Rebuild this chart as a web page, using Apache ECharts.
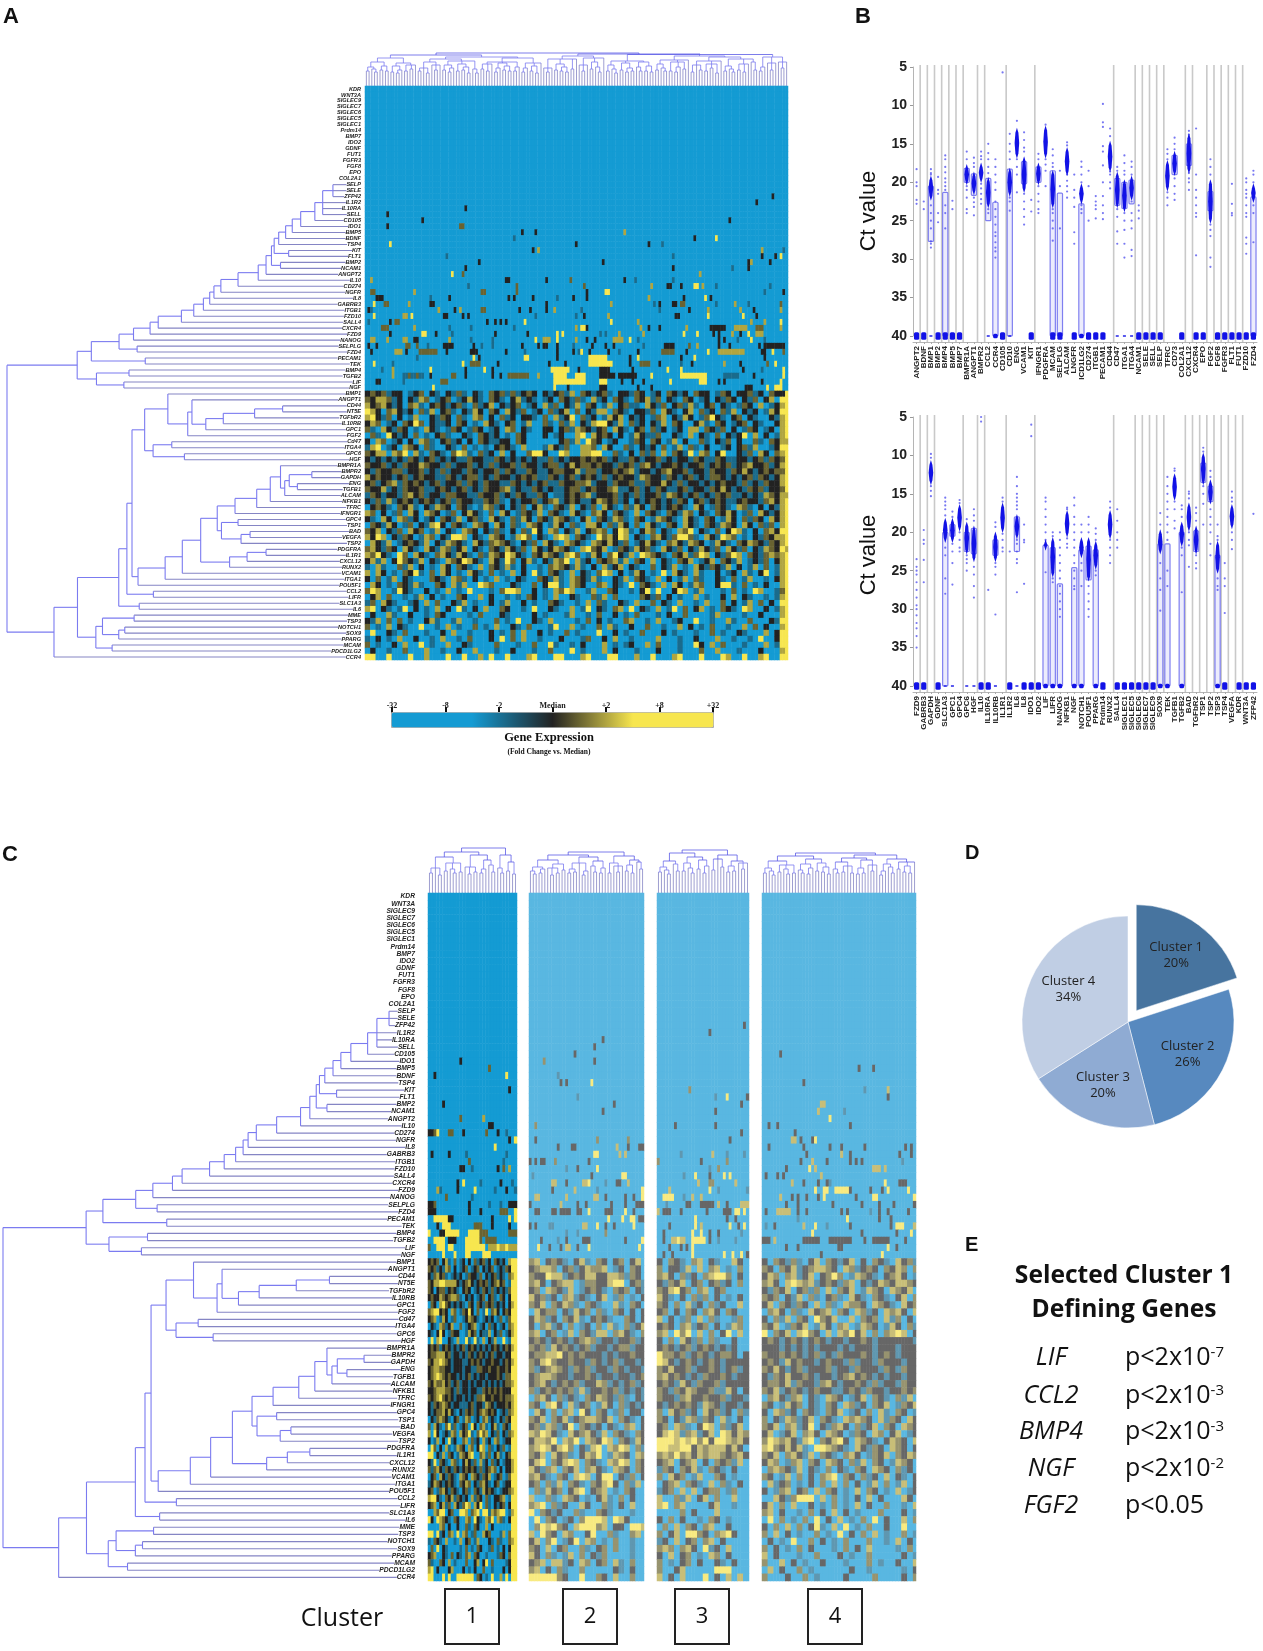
<!DOCTYPE html>
<html>
<head>
<meta charset="UTF-8">
<title>Gene expression clusters</title>
<script src="https://cdn.jsdelivr.net/npm/echarts@6/dist/echarts.min.js"></script>
<style>
  body { margin: 0; background: #fff; }
  #chart { width: 1263px; height: 1651px; }
</style>
</head>
<body>
<div id="chart"></div>
<script>
// heat rows, top to bottom (same order in panels A and C)
const rowGenes = ['KDR','WNT3A','SIGLEC9','SIGLEC7','SIGLEC6','SIGLEC5','SIGLEC1','Prdm14','BMP7','IDO2','GDNF','FUT1','FGFR3','FGF8','EPO','COL2A1','SELP','SELE','ZFP42','IL1R2','IL10RA','SELL','CD105','IDO1','BMP5','BDNF','TSP4','KIT','FLT1','BMP2','NCAM1','ANGPT2','IL10','CD274','NGFR','IL8','GABRB3','ITGB1','FZD10','SALL4','CXCR4','FZD9','NANOG','SELPLG','FZD4','PECAM1','TEK','BMP4','TGFB2','LIF','NGF','BMP1','ANGPT1','CD44','NT5E','TGFbR2','IL10RB','GPC1','FGF2','Cd47','ITGA4','GPC6','HGF','BMPR1A','BMPR2','GAPDH','ENG','TGFB1','ALCAM','NFKB1','TFRC','IFNGR1','GPC4','TSP1','BAD','VEGFA','TSP2','PDGFRA','IL1R1','CXCL12','RUNX2','VCAM1','ITGA1','POU5F1','CCL2','LIFR','SLC1A3','IL6','MME','TSP3','NOTCH1','SOX9','PPARG','MCAM','PDCD1LG2','CCR4'];

// row dendrogram: [distance, children...], child >= 0 is a row, child -k is merge number k
const rowMerges = [[70,16,17,18],[104,-1,19,20,21],[130,-2,22],[177,-3,23],[205,-4,24],[227,-5,25],[250,-6,26],[217,27,28],[265,-7,-8],[244,29,30],[274,-9,-10],[292,-11,31],[318,-12,32],[385,-13,33],[442,-14,34],[465,-15,35],[479,-16,36],[500,-17,37],[532,-18,38],[573,-19,39],[650,-20,40],[677,-21,41],[732,-22,42],[720,43,44],[780,-23,-24],[693,45,46],[872,-25,-26],[747,47,48],[764,49,50],[855,-28,-29],[919,-27,-30],
[237,53,54],[330,-32,55],[434,-33,56],[492,-34,57],[538,52,-35],[552,-36,58],[618,51,-37],[605,59,60],[563,61,62],[667,-39,-40],[695,-38,-41],
[140,64,65],[188,66,67],[215,-43,-44],[230,-45,68],[244,63,-46],[278,-47,69],[323,-48,70],[395,-49,71],[385,72,73],[345,74,75],[375,-52,76],[440,-51,-53],[454,-50,-54],[292,77,78],[355,-56,79],[413,-57,80],[509,-55,-58],[570,-59,81],[627,-60,82],[717,-61,83],[737,-42,-62],[666,84,85],[754,-63,-64],[713,86,87],[781,-65,-66],[730,88,89],[761,90,91],[781,-69,92],[835,-68,-70],[803,93,94],[857,-71,-72],[918,-67,-73],[996,-74,95],[1152,-31,-75]];

// column dendrograms: [height, children...], 1 is one sample
const colTreeA = [33,[31,[28,[24,[19,[15,1,1],[17,1,[14,1,1]]],[20,[16,1,1],[15,1,1]]],[23,[20,[14,1,1],[16,[13,1,1],1]],[21,[15,1,1],[17,1,1],1]]],[29,[27,[24,[18,[15,1,1],1,[13,1,1]],[21,1,[16,1,1],1]],[25,[21,[16,1,1],[18,[14,1,1],1]],[22,[15,1,1],[19,[16,1,1],[13,1,1]]],[17,1,[13,1,1]]]],[28,[24,[22,[17,1,1],[15,1,1],1],[23,[18,[14,1,1],1],[20,[16,1,1],[15,1,1]]],[19,[15,1,1],1]],[23,[18,[14,1,1],1],[20,[15,1,1],[13,1,1]],1]]]],[32,[30,[27,[18,1,[14,1,1],1],[22,[16,1,1],[19,[15,1,1],[14,1,1]]],[17,1,1],1],[28,[21,1,[15,1,1],1],[24,[17,1,1],[19,1,[14,1,1]]],1]],[31.5,[25,[21,[15,1,1],[17,1,[13,1,1]]],[23,[16,1,1],[18,[14,1,1],[15,1,1]]],[24,[19,1,[15,1,1]],[20,[15,1,1],[14,1,1]]]],[30,[26,[22,[16,1,1],[18,1,[15,1,1]]],[24,[15,1,1],[19,[14,1,1],1],[17,1,1]],1],[29,[25,[21,[14,1,1],1,[16,1,1]],[22,[15,1,1],[18,1,1],[13,1,1]],1],[27,[20,[15,1,1],[17,1,[14,1,1]]],[22,[16,1,1],[14,1,1],1],[24,1,[16,1,1]]]]],[29,[19,[15,1,1],1],[23,1,[16,1,1],1],[24,1,[18,1,1],1]]]]];
const colTreeC1 = [45,[41,[36,[25,[20,1,1],1,[18,1,1]],[30,[22,1,1],[24,1,[20,1,1]],[21,1,1]]],[38,[26,1,[19,1,1],[21,1,1]],[33,[24,[20,1,1],1],[28,1,[21,1,1]]]]],[38,[25,1,[20,1,1]],[31,[22,1,1],[19,1,1]]]];
const colTreeC2 = [41,[38,[33,[26,[22,1,[19,1,1]],[24,[20,1,1],1]],[29,[25,1,[18,1,1],[20,1,1]],[23,1,1]]],[36,[30,[24,[20,1,1],[21,1,1]],1,[22,[18,1,1],1]],[32,[27,1,[21,1,1]],[25,[20,1,1],1]]]],[37,[30,[20,1,1],[27,1,[21,1,1],1]],[33,[28,[22,1,1],[20,1,1]],[31,1,[24,1,1]]]]];
const colTreeC3 = [43,[40,[32,[26,[21,1,1],[23,1,[19,1,1]]],[29,1,[22,1,1]]],[36,[30,[22,1,1],[25,1,[20,1,1]]],[33,[24,1,1],[27,[20,1,1],1]]]],[38,[34,[23,1,1],1,[26,1,1]],[32,[27,[21,1,1],[22,1,1]],[30,1,[24,1,1],1]]]];
const colTreeC4 = [40,[37,[32,[25,[20,1,1],[22,1,[18,1,1]]],[28,[21,1,1],[24,1,[19,1,1]],[20,1,1]]],[34,[29,[23,1,[20,1,1]],[25,[19,1,1],1]],[30,[22,1,1],[26,[21,1,1],[19,1,1]]]]],[38,[35,[31,[24,1,[20,1,1]],[27,[21,1,1],1,[20,1,1]]],[33,[25,[19,1,1],[20,1,1]],[28,1,[22,1,1],1]]],[34,[29,[22,[18,1,1],1],[26,1,[20,1,1]]],[31,[24,1,1],[27,[21,1,1],[20,1,1]],1]]]];

// heat levels: t teal, k black, d dark olive, o olive, y yellow ("35-36d" = samples 35 to 36)
const levelValues = [-3, -0.9, 0, 0.5, 1, 3];
const sparseA = {
18:'151k',19:'145k',20:'37k',21:'8k',22:'21k 135k',23:'8k 35-36d',24:'58k 63k 96o',25:'55t 122k 130y',26:'9y 78k 105k 110t',27:'62k 64o 147o 155t',
28:'30t 114t 147k 152k 154y',29:'42k 88k 142k 143o 150k',30:'37k 114k 136t 142k',31:'32y 36d 124o',32:'2o 52-53k 67k 76d 96k 100t 114t',
33:'38t 56d 81d 106o 112-113k 117k 122-123y 125o 130t 150t',34:'2-3d 18o 43-44d 56d 82k 89-90y 148t 155k',35:'4-6k 24t 31k 53k 55k 62k 71t 77k 82k 105o 118k 126y 128k',
36:'3y 7-8d 16o 24-25k 67k 91o 107t 109k 114-115k 117-118d 130t 137o 142t 154d',37:'1k 2t 27o 33k 35o 43-44d 57k 61k 67k 70o 80t 109t 120k 127o 139o 144k 154o',
38:'3y 14-15o 17y 29k 30k 36k 38k 63t 78t 81k 90o 115-116k 127y 140y 145k',39:'1t 9k 11-12d 45k 48k 50k 52k 59y 91y 101o 143o 148o 154y',
40:'6-8d 18o 31t 39t 55t 78o 80-81y 82k 102o 105k 109k 119o 128-133k 137-141o 145-147d 154o',41:'9k 21-22y 26k 32t 48k 60k 71y 73y 87t 89t 94o 103o 118y 123y 129k 131k 136o 139k 142y 145-147o',
42:'2-3o 8o 14-15o 18-19k 31o 39t 47t 63y 66-67o 68o 71y 78o 82k 85k 92-95o 98y 101t 131k 133k 138t 143y 148t',43:'1k 4k 15-16d 19d 23t 29-32k 40k 43t 47t 58k 64k 66-67k 71k 77t 84k 89k 92k 103t 111-114k 120d 123o 131k 135k 146k 148-155k',
44:'2k 11-13o 15k 20-26d 30k 39-41k 52k 59t 71k 77k 79t 80y 83k 90k 94t 101k 110-114d 119k 127y 131-140o 147-148k 151y 155d',45:'19t 40y 42k 59-60y 71k 83-89y 98k 101y 117k 122y 148k',
46:'3y 10t 36y 39-42d 49k 68k 74k 83-91y 98k 102-105d 109k 117t 121k 133o 139k 149d 152y',47:'6t 10o 24y 37k 44y 47k 69-75y 79k 87-90k 99k 112y 117y 140k 147t 155y',
48:'10o 14-21t 16d 19d 24k 32-33d 37k 47k 50k 53-60d 64o 70-74y 78-81y 87-92k 94-100k 106y 117-126y 133-138t 144k 155y',49:'4-5k 14t 28-30d 70-81y 87-89y 95k 99k 103k 113y 124-126y 131k 133k 147k 154y',50:'25y 70y 75k 87-89k 101k 106k 141-143k 149y 152-154y'};
const sparseC1 = {23:'11k',24:'21d',25:'2k 27y',27:'28k',29:'5k',31:'11d 19o',32:'21-22k',33:'0-1k 2d 3y 7-8d 12k 20d 24k 27t',34:'28k 30y',35:'23y',36:'1k 7k 13t 27t',37:'14d 26t',38:'11-12k 15t 24k 26d 28o',40:'10k 12y 18t 25k 29t',41:'3o 4t 10k 16y 23t 27k 30t',42:'6d 15t',43:'0-1k 2d 14k 21t 25t 28-30k',44:'0-2k 14k 18k 25-27d 30y',45:'2-3y 4-6y 7-8k 22k 28y 30y',46:'3k 5-7y 16-18d 22k 28k',47:'0y 4-5k 6-10y 14-17y 18-20d 28-30d',48:'2-5y 7-9k 13-17y 18d 20-23d',49:'0d 3-5y 7-8y 13-19y 21-30o 24y 27y',50:'5y 9y 13-14y 19-21y'};
const sparseC2 = {20:'26k',21:'23k',22:'16k',23:'5d 23k',25:'10t',26:'11k 13k 22y',28:'17t',29:'30k',30:'26k',32:'2d',34:'2k 24d 35d',35:'10k 15-16k 31o 35k 39-40k',36:'23-24y 32o 34o',37:'0k 2k 4-5k 9d 21k',38:'13t 17k 24y',39:'1t 22k 33-34y',40:'8-9o 13k 19-20o 21y 27t 31-32k 35o',41:'8k 16o 24t 40y',42:'2-3o 13o 23-24o 27k 34k 37k 40y',43:'0k 11o 17k 20k 29k 34k 38-40k',44:'2-3k 8-9k 11-14k 17-18k 21y 27-29k 34y 37k',45:'28y 33y 36-37y 39-40k',46:'0k 2k 7-8t 19-20o 24y 27k 30k 37y',47:'13t 17t 27d',48:'4k 10t 13k 19-21k 34k 40y',49:'3y 7k 11k 13-14o 17k 21y 39y'};
const sparseC3 = {18:'30k',19:'18k',27:'11d',28:'20t 24y 31k',29:'29k',30:'20k',32:'6k 20k',33:'29k',34:'25k',36:'8t 19o 24t 30t',37:'0d 15k 24d',38:'18t 21d',39:'9t 13y 18k 23y 25y',40:'14o 18-19d 27o',41:'4o 18y 21t 31t',42:'2-5y 9t 12o 15o',43:'3t 10-11k 15-19k 21o 24k 29-31o',44:'0o 2-4k 8k 17k 23-25k 27-28y 30y',45:'13y 24k 27k',46:'4k 13y 15o 25y 28k 30y',47:'2k 12y 15y 18k 21k 29t',48:'2k 5-9o 7y 12-16y 18k 21t 27t',49:'4k 8k 10k 12y',50:'2k 5k 12y 23y 26y 29y 31k'};
const sparseC4 = {22:'6k',24:'33k 38k',26:'14k',27:'35t 43o',28:'43k',29:'20-21o',30:'19o 28t',31:'23y',32:'2k 5k 30k',33:'11k',34:'10-11o 13k 17k 18y',35:'2k 14k 23k 27k 35k 49k 51k',36:'15k 27o 30k 47k 51k',37:'13k 17o 22k 30k 32k 34k 48t',38:'8k 16y 18o 38-40o 42o',39:'1k 5k 7k 20o',40:'10o 14k 19k 22k 23t 42y 47-49k',41:'18y 21-22y 25-29y 30k 37k 41k 43y 50y',42:'6o 10k 12k 15k 19k 21y 32k 38-39y 52y',43:'8k 12k 24k 34k 40k 45k 52k',44:'1k 5-9o 12k 15k 27k 29k 37t 40k 43k 50k',45:'12t 29y 40k 44k',46:'1t 4k 14o 18y 22t 30k 44k 46-48y 52o',47:'17y 34k 46k 51y',48:'0-2k 4o 14-19k 23-30k 35k 38-43k 49k',49:'8k 12k 26-27k 43y 46k',50:'20k 41y'};

// rows BMP1..CCR4: digits 0 blue, 1 teal, 2 black, 3 dark olive, 4 olive, 5 yellow
const denseA = [
'2323122012302102131021032313123202123140321231022132012032120322013202231203225',
'3244312021430123012421032102412101203213104120321032413021032012021320213024055',
'4234212034102321231031240212301204130214032014023110421302314102302101320401245',
'5420342120314023102142032042130120312403021440321022130421024031203140212014255',
'4521302014002132031043020312022103041250312014240212013402142013521023021002145',
'2430120325302112032010421023014003103140214552140312021403200241032012302100245',
'3104213201042101320132012043021002202314321230421023031201204403213020132012045',
'0310521203010231002103212010320002012004504232020142113002104021030212504020145',
'2043012020431023120203211220320000002314053201200132032014020031021302003103244',
'1450120432031002103010102321040001421300443042003102120301403102001202314001255',
'3244043504103210354103120402003552005400445500310203130403215043025002130420345',
'2121212132123121211322113212121211312122323231211321223121221321132112212313235',
'3223121322432213122312131223132212331242332322132313421223212231232312342231245',
'2132233122312131221321223132113211233224133122323412212342231221322132421232335',
'4232212312322113212331213221232311321231232131232214322132123121332121231321245',
'2312341323212312231321322113212123113223341221322311322421312212123221312132245',
'3224121322311232123121322341211321211233123223411231213211231221324212132312235',
'1321221342312213322113223121321132011232341222312131223143212312132311212143244',
'2131412321232123132211323102122312341232112432312021232121320231232112322134245',
'0232103241021432032101431202130241032140213042103142032123210420132104310202145',
'4302013042043201302421030420132140321042103420321040321032143021032420130421245',
'2104204312012032140231042103142032143210240321431032014321042103201420313204245',
'0321420130214520321043204203104320142031044203142030421032042103214320420313045',
'3240213042301402104320213102031520430214023430254102430210435021030254102034255',
'4254021320143021554021043201453021045403210534254021034213553104215430102132445',
'0421401232140214321042134321021304210432104324213012421034214320142103243213245',
'3421320421042143124021032142130421243210453240132142310421302142130421302143254',
'4352105304210342142103143254210324321453014203521405432103241354021354032134345',
'2414025321402104325421042153024102143504120323414032040210324012403214012130245',
'1041003140201042032104032141020010343214102041240210030214010421321402014030145',
'4042010325103042010421030104020510321040210354020142010504210410020120410250145',
'2030140210003210431020104010210032141043214100214032104020140310021030140010245',
'0420103214100320414005430002100302551043200340210503210404201430025510301020045',
'3540015210020104010500010355400201043540014003200102505002540140001030105400135',
'0240300101402010032004020010103201040021003140300003213020100401002040210010145',
'1304210012040300214010020140020100321001040310021040030210400104003020140302055',
'4502101502010402051020400320010500210040150210340502104015030240103210540020145',
'0200410020010320000103000210000201000140010300201030001020030000140000100200045',
'2140303010024100140010003010500210400001030201003400104001200500100410030002155',
'3010402100500104010030104002103000150040100304100200300100402010300100403020045',
'0500210300010020400100020103040020100301000500201003000201000100301002100040255',
'1020104002001040010300020503040010002000130020400100004000100200040010010500255',
'3010020400501004002100003000100300510010200040101200403000100520403000100040155',
'0200100300040010020040001002000100300050100040200010002000100030040001000200045',
'5500500050040005005004050050004500055000450005500040050004500050005400500450055'];
const denseC1 = [
'2323024103012020312312032120455','3231214302012301230212301213255','2134231012120132213021231210345','3244554444212342123231234230155','3202331232102320121321312121355',
'2322432344310212012302310320255','0320453212121032032132312120245','3455232043013252030150342023255','2340142013001243210121201301355','0210431240030123401203120120345',
'2102520132200142302114021301245','0504500210400510510402140050155','2323123212123123212121232123245','2334442312212132123212312212255','3244543212221123232122322123245',
'2344332212221221133223223223255','2345432322121231212212223213355','3243342312312212122121212123345','2234443321312212211323232322255','3234532321221212133422322323345',
'2132343212211123122143212223245','2123342421021323123432320121345','0213432102301430120341210213255','3042103513012305203410241032155','4052012143042351035340213021345',
'2014020512003403120412043012255','0530204101432043025403102130155','5502140320143245003413024102355','2150321043102421304120312012245','3134213213212323213123430202245',
'0230421321043204321324012301355','1243212321032430213421023012255','2301342132102310321423210122345','4552103241321204132031022340155','2340241304213540425031021230255',
'0043550230055403450551434550145','5205432103200430521043504310255','0000430200200310320040200000055','5505120340504301300423000140355','1032104001040230140002103100345',
'0305021000010301032001301020255','2340021030210340320010001320355','3100320401000300240250300001255','4502000240002010200300100020255','5500050500555555032010500405055'];
const denseC2 = ['340232102410320230240','234430231243340120320','322544123244224431320','342023440133224550231','230432140123210323021','423120341210240130102','324032431032100410320','042330214230310320202','243120324102321003202','203412030120304103124','340230140321440342103','232123212343122122312','323142321231221233122','233445232322212122322','324532232213212312212','312343213231221321221','234432212232122122123','234212323122431212312','312323231412232312121','034203121032432131021','320452041230142031212','042030340520320130220','324032412344324032102','231431250321202103402','435421042342140321032','244350435043254032142','345424530214504354031','324042310243501432043','245032454032104354032','421340324034210432032','342103204540255021302','230314032103245203140','031423024502340103200','400310432010241030200','345031200420031020400','503212003100321000100','050320120355540542000','035453204555340220554','405320430025003100340','240350125043010300100','320402300310230300100','420310140302130000100','234044120430230410300','340203100300000210200','555553200500320400300'];
const denseC3 = ['2032103402100420','3022140403401030','3420312034553020','2132402302312030','3245230340230000','4210203130201020','3203041203120040','2302032034203200','4020130403100130','2320341230201430','3405350403025040','2030421303100200','2321231232121200','5332312321233202','5421232123212222','3242231223212312','3423212132232122','2321421322312222','3213243223114202','3221342232231221','2123232143212212','3042312042312031','3202143132041020','2304310254031240','2454134124054243','5554545352554342','5544552434442420','3435342434432342','2340234020323140','1320324103210200','3042301400320100','0234032104031020','1230404023301300','4003140240300400','4503400002400100','0000302000400000','2030200103201000','0304032034002000','3024055320345200','1204023034020000','3430342051204000','2040230104302000','3010230200210200','3002400000555000','4020400050204040'];
const denseC4 = ['203213102403212402032104231','320324123443204312320324303','243034124023530143210234201','342045434123213402124324432','213240231304032401432043240','323021403102310421032102403','240321320403104332043210423','034203104234032043120434204','203140320532400403230413020','324013240142034014320142031','503240453204043524030345402','232123212321221223212222221','222121212122212122212221222','322323212312132223212321222','232142322123221312213222122','324212312223122132221321322','213242232122123423212122122','233241322134212232131221322','324123212322112321322122323','034213402104320124032103140','320142302103204312032401324','204312032103240120304103201','302143124032104343204132042','324034125021342031240320432','240124034204320132043024012','354342145032452043210243204','453242410554321042132043202','324034214032103420132403243','243013403204320314032014320','034321402103021032043203120','320140302034503203120402102','041230102030403020140301402','201340230403201040320104012','004213555040301020402000420','240304002010301040200300104','340200103020402010003000201','050301030502040103050200403','203040302510405010300200500','304020100301050203040100301','020105003020103000300104020','302010302000103020400001030','402000100300020100300000201','300402010020001000301002004','040200301000000200100000102','300020030100002000030000203'];

// panel B, top plot, left to right
const topGenes = ['ANGPT2','BDNF','BMP1','BMP2','BMP4','BMP5','BMP7','BMPR1A','ANGPT1','BMPR2','CCL2','CCR4','CD105','CD10','ENG','VCAM1','KIT','IFNGR1','PDGFRA','MCAM','SELPLG','ALCAM','LNGFR','ICD1LG2','CD274','ITGB1','PECAM1','CD44','CD47','ITGA1','ITGA4','NCAM1','SELE','SELL','SELP','TFRC','CD73','COL2A1','CXCL12','CXCR4','EPO','FGF2','FGF8','FGFR3','FLT1','FUT1','FZD10','FZD4'];
const topCores = {2:[19.5,22],7:[18,20],8:[19,21.3],9:[17.8,19.7],10:[19.7,23],13:[18.5,21.5],14:[13.3,16.5],15:[17,21],17:[17.8,20],18:[13,16.5],19:[18.8,23],21:[15.8,18.8],23:[20.5,22.5],27:[15,18.3],28:[19,23],29:[20,23.5],30:[19.5,22],35:[17.5,20.8],36:[16.3,18.8],38:[14,18.5],41:[20,25],47:[20.5,22.3]};
const topBoxes = {2:[20.5,27.7],4:[21.3,40],7:[18.2,20],8:[18.9,21.7],10:[19.5,25],11:[22.6,40],13:[18.3,40],15:[17.3,20.2],17:[18,20],19:[18.5,40],20:[21.4,40],23:[22.8,40],28:[19.5,23],29:[20,23.4],30:[19.7,22.8],36:[16.5,19],38:[15,17.8],41:[21.2,23.7],47:[21.9,40]};
const topFloor = [2,2,.5,2,2,2,2,0,0,0,.5,1,2,.5,0,0,2,0,0,2,2,0,2,1,2,2,2,0,.5,.5,.5,2,2,2,2,0,0,2,0,2,2,0,2,2,2,2,2,2];
const topDots = [[18.3,20,20.5,22.3,22.8],[22.5,23.5],[18.3,18.8,19,23,24,25,26,27.7,28,28.5],[19.3,21,21.5,24,25.2],[16.5,17,18,18.7,19.5,20,20.5,21,23,24,26],[22.4,23.5],[],[16,17,20.5,21,22,23.5,24],[16.8,17.5,18,22,22.6,23.2,24.3],[16,16.6,17,20.2,20.8,21.5,22.2,22.8],[15,16.2,17,18,18.8,23.5,24],[17,18,19,20,21,22.5,23.5,24.5,25.5,26.5,27,27.8,28.5,29,29.8],[5.7],[13.7,15,16,17,22,22.5,23.7],[12,17,18,19,21.3],[13.5,14.5,15.5,16,21.5,22.5,23.5,24.5,25.5],[22.3,23.8],[16.3,17,20.5,21.5,22.5,23.5,24],[12.5,17,17.7,18.5,20.5],[15.7,16.5,17.5,18,23.5,24,25,26,27.6],[18.5,20.5,26],[14.8,15.2,19,19.8,20.5,21.2,22],[19,21,22,23.2,26.5,28],[17.3,18,19,20,23,23.5,24],[18.5,20.5,25],[21.8,22.5,23,23.5,24.7],[9.8,12.2,12.8,15.3,16,17.8,20,21.8,23,24,24.8],[13,14,18.6,19,20,20.8],[18,18.5,23.5,24.5,26.4,28],[16.5,17.5,18.5,19,24,25,26.2,28,29.8],[17.3,18,19,22.5,24,25,26,28.8,29.6],[23,23.7,24.7],[],[],[],[15.7,16.3,17,21.3,22,23],[14.2,15,15.7,19.5,20.5,21.5,22.3],[],[13.3,13.8,18.8,19.5,20,21],[13,19,21,22,23,24,24.5,29.5],[],[17,18,19,25.5,26.2,27,29.8,31],[],[],[20.2,22.8,24,24.3],[],[19.5,20,21,21.5,22,23,24,24.5,27.2,28,29.3],[18.5,19,20,23,24,27.8]];
const topLines = [0,1,2,3,4,5,6,8,9,12,16,27,30,31,32,33,34,37,38,40,41,42,43,44,45];

// panel B, bottom plot
const bottomGenes = ['FZD9','GABRB3','GAPDH','GDNF','SLC1A3','GPC1','GPC4','GPC6','HGF','IL10','IL10RA','IL10RB','IL1R1','IL1R2','IL6','IL8','IDO1','IDO2','LIF','LIFR','NANOG','NFKB1','NGF','NOTCH1','POU5F1','PPARG','Prdm14','RUNX2','SALL4','SIGLEC1','SIGLEC5','SIGLEC6','SIGLEC7','SIGLEC9','SOX9','TEK','TGFB1','TGFB2','BAD','TGFbR2','TSP1','TSP2','TSP3','TSP4','VEGFA','KDR','WNT3A','ZFP42'];
const bottomCores = {2:[11,13.5],4:[18.5,21],5:[18.5,21],6:[16.7,19.5],7:[19,22.5],8:[19.5,23.5],11:[20.3,23.5],12:[16.5,19.7],14:[18,20.5],18:[21.3,22],19:[21,25.5],21:[17.5,20.3],23:[21,23],24:[21,26],25:[21.5,24.5],27:[17.5,20.5],34:[20,22.5],36:[12.7,15.5],37:[19,21.5],38:[16.5,19.5],39:[19.5,22.5],40:[10,13.5],41:[13.5,16],42:[21.5,25],44:[16.7,19.2]};
const bottomBoxes = {4:[20,40],5:[19,20.5],7:[20,22.5],8:[19.5,22.8],11:[21,23],14:[18,22.5],18:[21.7,40],19:[22,40],20:[26.7,40],22:[24.6,40],23:[22.3,40],24:[21.8,26.2],25:[22.3,40],34:[21.5,40],35:[21.5,40],37:[20,40],39:[19.8,22.5],40:[11,13.5],41:[14,16],42:[23,40]};
const bottomFloor = [2,2,0,2,.5,.5,0,.5,.5,2,2,.5,0,2,.5,2,2,2,1,1,1,0,1,1,0,1,2,0,2,2,2,2,2,2,1,1,0,1,0,0,0,0,1,2,0,2,2,2];
const bottomDots = [[23.5,24.5,25,25.5,26.5,27.5,28.5,29.5,30,30.8,31.8,32.5,33.5,35],[19.7,21,21.5,23.6,26.5],[9.8,10.3,14,14.6,15.3],[],[15.5,16,16.5,17,17.8,22,23,26,28],[17.3,18,21.5,22.5,24,26.8],[15.8,16.2,20,21,22,22.5],[18.3,23,23.5,24,25],[17,17.8,18.5,24.5,25.5,27,28.5],[5,5.6],[27.5],[18.7,19.3,24,24.5,25.5,30.7],[15.5,16,20.2,21,22,22.5],[22.5],[12.8,14,15,15.5,16,16.5,17,21,21.5,22.5,23.5,24,27.8],[19,21,21.3,26.7],[6,7.5],[],[15.5,16,17,18,19,20,21,25.2],[20,20.5,26,26.5],[20,21,22,23,24,25,26,27,28,29,30,31],[16.8,17,20.8,21.5,22],[15.5,16.5,18,19,20,21,22,23,24,25,26,27,27.4],[19,20,24,25,27],[18,19,20,27,28,29,30,31],[19.5,20.2,21,25,25.6],[],[16,16.8,21,22,23,24],[17,18.5,20,21,22],[],[],[],[],[],[17.5,19,24,26,27.5,30.2],[12.8,14,15,16,17,18,19,20,21,25,27],[11.7,12,16,17,18.5,19.5],[16.5,17,18,22,23,27.8],[14.7,15,15.6,20,21,21.7,24.5],[16.8,17.5,18.5,23,24,24.7],[9,9.5,14,15,16.3,19],[12,12.8,17,18,19,20,21.5,23],[19,20.5,21,26,27,27.5],[24,26,27,30.5],[14.7,15.5,16,20,21,22.2],[],[],[17.6]];
const bottomLines = [0,1,2,6,8,9,12,16,27,30,31,32,33,34,37,38,39,40,41,42,43,44,45];

// panel D and E
const clusterNames = ['Cluster 1','Cluster 2','Cluster 3','Cluster 4'];
const clusterShares = [20, 26, 20, 34];
const clusterColors = ['#47749f', '#5789bf', '#8fabd3', '#c0cee4'];
const clusterDigits = ['1', '2', '3', '4'];
const definingGenes = ['LIF', 'CCL2', 'BMP4', 'NGF', 'FGF2'];
const definingP = ['p<2x10', 'p<2x10', 'p<2x10', 'p<2x10', 'p<0.05'];
const definingExp = ['-7', '-3', '-3', '-2', ''];
const colorbarTicks = ['-32', '-8', '-2', 'Median', '+2', '+8', '+32'];

const sans = '"Liberation Sans", Arial, sans-serif';
const soft = '"Open Sans", "Noto Sans", sans-serif';
const serif = '"Liberation Serif", serif';
const treeBar = '#7b7bf0', treeArm = '#8585c4';
const dotBlue = '#1212e6';

// layout of a dendrogram into line pieces [pos1, h1, pos2, h2, isArm]
function treeFromMerges(merges) {
  const segs = [], done = [];
  merges.forEach(m => {
    const kids = m.slice(1).map(c => c >= 0 ? { pos: c, h: 0 } : done[-c - 1]);
    const ps = kids.map(k => k.pos);
    kids.forEach(k => segs.push([k.pos, k.h, k.pos, m[0], k.h === 0 ? 1 : 0]));
    segs.push([Math.min(...ps), m[0], Math.max(...ps), m[0], 0]);
    done.push({ pos: (Math.min(...ps) + Math.max(...ps)) / 2, h: m[0] });
  });
  return segs;
}
function treeFromNested(root) {
  const segs = [];
  let count = 0;
  function walk(n) {
    if (n === 1) return { pos: count++, h: 0 };
    const kids = n.slice(1).map(walk);
    const ps = kids.map(k => k.pos);
    kids.forEach(k => segs.push([k.pos, k.h, k.pos, n[0], k.h === 0 ? 1 : 0]));
    segs.push([Math.min(...ps), n[0], Math.max(...ps), n[0], 0]);
    return { pos: (Math.min(...ps) + Math.max(...ps)) / 2, h: n[0] };
  }
  walk(root);
  return { segs, count };
}

function heatCells(nCols, dense, sparse) {
  const cells = [];
  const letters = 'tkdoy';
  const marks = {};
  Object.keys(sparse).forEach(r => {
    sparse[r].split(' ').forEach(tok => {
      const m = tok.match(/^(\d+)(?:-(\d+))?([tkdoy])$/);
      const from = +m[1], to = m[2] ? +m[2] : from;
      for (let c = from; c <= to; c++) marks[r + '_' + c] = letters.indexOf(m[3]) + 1;
    });
  });
  for (let r = 0; r < rowGenes.length; r++) {
    for (let c = 0; c < nCols; c++) {
      let level = 0;
      if (r >= 51) {
        const s = dense[r - 51];
        level = +s[Math.floor(c * s.length / nCols)];
      } else if (marks[r + '_' + c]) {
        level = marks[r + '_' + c];
      }
      cells.push([c, r, levelValues[level]]);
    }
  }
  return cells;
}

const grids = [], xAxes = [], yAxes = [], series = [];
function addGrid(rect, xAxis, yAxis) {
  grids.push(Object.assign({ containLabel: false }, rect));
  const i = grids.length - 1;
  xAxes.push(Object.assign({ gridIndex: i, show: false }, xAxis));
  yAxes.push(Object.assign({ gridIndex: i, show: false }, yAxis));
  return i;
}
const range = n => Array.from({ length: n }, (_, i) => String(i));

function addHeat(left, width, nCols, dense, sparse, labelOpts) {
  const g = addGrid({ left, width, top: labelOpts.top, height: labelOpts.height },
    { type: 'category', data: range(nCols) },
    Object.assign({ type: 'category', data: rowGenes, inverse: true },
      labelOpts.label ? {
        show: true, z: 5, axisLine: { show: false }, axisTick: { show: false },
        axisLabel: { interval: 0, margin: labelOpts.margin, fontSize: labelOpts.size, fontStyle: 'italic', fontWeight: 'bold',
          fontFamily: sans, color: '#222', backgroundColor: '#fff' }
      } : {}));
  series.push({ type: 'heatmap', xAxisIndex: g, yAxisIndex: g, data: heatCells(nCols, dense, sparse),
    animation: false, progressive: 0, silent: true, emphasis: { disabled: true } });
}
function addLines(g, segs, horizontal) {
  series.push({ type: 'custom', xAxisIndex: g, yAxisIndex: g, z: 1, silent: true, animation: false,
    data: segs,
    renderItem(params, api) {
      const v = i => api.value(i);
      const a = horizontal ? api.coord([v(1), v(0)]) : api.coord([v(0), v(1)]);
      const b = horizontal ? api.coord([v(3), v(2)]) : api.coord([v(2), v(3)]);
      return { type: 'line', shape: { x1: a[0], y1: a[1], x2: b[0], y2: b[1] },
        style: { stroke: v(4) ? treeArm : (!horizontal && v(1) > 30 ? '#5a5ae6' : treeBar), lineWidth: horizontal ? 1.1 : 0.8 } };
    } });
}
function addColTree(left, width, top, height, tree, maxH) {
  const t = treeFromNested(tree);
  const g = addGrid({ left, width, top, height },
    { type: 'value', min: -0.5, max: t.count - 0.5 }, { type: 'value', min: 0, max: maxH });
  addLines(g, t.segs, false);
}
function addRowTree(left, width, top, height) {
  const g = addGrid({ left, width, top, height },
    { type: 'value', min: 0, max: 1152, inverse: true },
    { type: 'value', min: -0.5, max: 95.5, inverse: true });
  addLines(g, treeFromMerges(rowMerges), true);
}

// panel A
addHeat(365, 423, 157, denseA, sparseA, { top: 86, height: 574, label: true, margin: 4, size: 5.6 });
// panel C
const cTop = { top: 893, height: 688 };
addHeat(428, 89, 31, denseC1, sparseC1, Object.assign({ label: true, margin: 13, size: 6.7 }, cTop));
addHeat(529, 115, 41, denseC2, sparseC2, cTop);
addHeat(657, 92, 32, denseC3, sparseC3, cTop);
addHeat(762, 154, 53, denseC4, sparseC4, cTop);

addRowTree(7, 347, 86, 574);
addRowTree(3, 411, 893, 688);
addColTree(365, 423, 53, 33, colTreeA, 33);
addColTree(428, 89, 848, 45, colTreeC1, 45);
addColTree(529, 115, 850, 43, colTreeC2, 43);
addColTree(657, 92, 850, 43, colTreeC3, 43);
addColTree(762, 154, 852, 41, colTreeC4, 41);

// panel B
function addSwarm(top, genes, cores, boxes, floor, dots, lines) {
  const g = addGrid({ left: 913, width: 344, top, height: 269 },
    { show: true, type: 'category', data: genes, offset: 6,
      axisLine: { lineStyle: { color: '#b5b5b5', width: 1 } }, axisTick: { show: true, length: 2, lineStyle: { color: '#aaa' }, alignWithLabel: true },
      axisLabel: { interval: 0, rotate: 90, fontSize: 8, fontWeight: 'bold', fontFamily: sans, color: '#222', margin: 4 } },
    { show: true, type: 'value', inverse: true, min: 5, max: 40, interval: 5, splitLine: { show: false },
      axisLine: { show: true, lineStyle: { color: '#b5b5b5' } }, axisTick: { show: true, length: 3, lineStyle: { color: '#999' } },
      axisLabel: { fontSize: 14, fontWeight: 'bold', fontFamily: sans, color: '#222', margin: 6 } });
  const base = { type: 'custom', xAxisIndex: g, yAxisIndex: g, silent: true, animation: false };
  series.push(Object.assign({}, base, { z: 1, data: lines.map(i => [i]),
    renderItem(p, api) {
      const w = api.size([1, 0])[0];
      const a = api.coord([api.value(0), 5]), b = api.coord([api.value(0), 40]);
      const x = a[0] + w / 2;
      return { type: 'line', shape: { x1: x, y1: a[1] - 2, x2: x, y2: b[1] + 6 }, style: { stroke: '#c9c9c9', lineWidth: 1.6 } };
    } }));
  series.push(Object.assign({}, base, { z: 2, data: Object.keys(boxes).map(k => [+k, boxes[k][0], boxes[k][1]]),
    renderItem(p, api) {
      const a = api.coord([api.value(0), api.value(1)]), b = api.coord([api.value(0), api.value(2)]);
      return { type: 'rect', shape: { x: a[0] - 2.6, y: a[1], width: 5.2, height: b[1] - a[1], r: 1 },
        style: { fill: 'rgba(120,120,235,.14)', stroke: '#7f7ff0', lineWidth: 1.2 } };
    } }));
  const dotData = [];
  dots.forEach((list, i) => list.forEach(v => dotData.push([i, v])));
  series.push({ type: 'scatter', xAxisIndex: g, yAxisIndex: g, z: 3, silent: true, animation: false, clip: false,
    symbolSize: 2.2, itemStyle: { color: '#4a4aee', opacity: 0.75 }, data: dotData });
  series.push(Object.assign({}, base, { z: 4, data: Object.keys(cores).map(k => [+k, cores[k][0], cores[k][1]]),
    renderItem(p, api) {
      const a = api.coord([api.value(0), api.value(1)]), b = api.coord([api.value(0), api.value(2)]);
      const mid = (a[1] + b[1]) / 2, x = a[0];
      return { type: 'polygon', shape: { points: [[x, a[1] - 3], [x + 1.5, a[1] + 2], [x + 2.3, mid], [x + 1.5, b[1] - 2], [x, b[1] + 3], [x - 1.5, b[1] - 2], [x - 2.3, mid], [x - 1.5, a[1] + 2]] },
        style: { fill: dotBlue } };
    } }));
  series.push(Object.assign({}, base, { z: 4, data: floor.map((f, i) => [i, f]).filter(d => d[1] > 0),
    renderItem(p, api) {
      const f = api.value(1);
      const c = api.coord([api.value(0), 40]);
      const w = f === 2 ? 5.2 : f === 1 ? 4.6 : 3;
      const h = f === 2 ? 7.4 : f === 1 ? 4.5 : 1.4;
      return { type: 'rect', shape: { x: c[0] - w / 2, y: c[1] - h / 2, width: w, height: h, r: f === .5 ? 0 : 1.5 },
        style: { fill: dotBlue } };
    } }));
}
addSwarm(67, topGenes, topCores, topBoxes, topFloor, topDots, topLines);
addSwarm(417, bottomGenes, bottomCores, bottomBoxes, bottomFloor, bottomDots, bottomLines);

// ticks above the colour bar
addGrid({ left: 392, width: 321, top: 712, height: 1 },
  { show: true, type: 'value', position: 'top', min: -3, max: 3, interval: 1, splitLine: { show: false },
    axisLine: { show: false }, axisTick: { show: true, length: 6, lineStyle: { color: '#111', width: 2 } },
    axisLabel: { formatter: v => colorbarTicks[v + 3], fontSize: 8, fontWeight: 'bold', fontFamily: serif, color: '#222', margin: 2, showMinLabel: true, showMaxLabel: true } },
  { type: 'value', min: 0, max: 1 });

// panel D: the second, clear ring only places the labels
const pieData = clusterNames.map((n, i) => ({ name: n, value: clusterShares[i], selected: i === 0, itemStyle: { color: clusterColors[i] } }));
const pieBase = { type: 'pie', center: [1128, 1022], startAngle: 90, selectedMode: 'single', selectedOffset: 14, silent: true, animation: false, emphasis: { disabled: true }, labelLine: { show: false }, avoidLabelOverlap: false };
series.push(Object.assign({}, pieBase, { radius: [0, 106], data: pieData, label: { show: false }, itemStyle: { borderColor: '#fff', borderWidth: 0.5 } }));
series.push(Object.assign({}, pieBase, { radius: [24, 106], z: 5,
  data: clusterNames.map((n, i) => ({ name: n, value: clusterShares[i], selected: i === 0, itemStyle: { color: 'rgba(0,0,0,0)' } })),
  label: { show: true, position: 'inside', formatter: '{b}\n{c}%', fontSize: 13, lineHeight: 16, fontFamily: soft, color: '#222' } }));

const graphic = [];
function addText(text, x, y, font, extra) {
  graphic.push(Object.assign({ type: 'text', x, y, silent: true,
    style: Object.assign({ text, font, fill: '#111', textAlign: 'left', textVerticalAlign: 'middle' }, extra || {}) }));
}
addText('A', 3, 17, 'bold 22px ' + sans);
addText('B', 855, 17, 'bold 22px ' + sans);
addText('C', 2, 855, 'bold 22px ' + sans);
addText('D', 965, 853, 'bold 20px ' + sans);
addText('E', 965, 1245, 'bold 20px ' + sans);
graphic.push({ type: 'text', x: 869, y: 211, rotation: Math.PI / 2, silent: true, style: { text: 'Ct value', font: '22px ' + sans, fill: '#111', textAlign: 'center', textVerticalAlign: 'middle' } });
graphic.push({ type: 'text', x: 869, y: 555, rotation: Math.PI / 2, silent: true, style: { text: 'Ct value', font: '22px ' + sans, fill: '#111', textAlign: 'center', textVerticalAlign: 'middle' } });
addText('Gene Expression', 549, 738, 'bold 12.5px ' + serif, { textAlign: 'center' });
addText('(Fold Change vs. Median)', 549, 752, 'bold 7.5px ' + serif, { textAlign: 'center' });
addText('Cluster', 342, 1619, '25px ' + soft, { textAlign: 'center' });
const boxLefts = [445, 563, 675, 808];
clusterDigits.forEach((d, i) => {
  graphic.push({ type: 'rect', silent: true, shape: { x: boxLefts[i], y: 1589, width: 54, height: 55 }, style: { fill: 'none', stroke: '#222', lineWidth: 2 } });
  addText(d, boxLefts[i] + 27, 1617, '22px ' + soft, { textAlign: 'center' });
});
addText('Selected Cluster 1', 1124, 1276, 'bold 24.6px ' + soft, { textAlign: 'center' });
addText('Defining Genes', 1124, 1310, 'bold 24.6px ' + soft, { textAlign: 'center' });
const rowY = [1358, 1396, 1432, 1469, 1506];
definingGenes.forEach((g, i) => {
  addText(g, 1051, rowY[i], 'italic 25px ' + soft, { textAlign: 'center' });
  graphic.push({ type: 'text', x: 1125, y: rowY[i], silent: true, style: {
    text: definingP[i] + (definingExp[i] ? '{s|' + definingExp[i] + '}' : ''), font: '25px ' + soft, fill: '#111',
    textAlign: 'left', textVerticalAlign: 'middle',
    rich: { s: { fontSize: 15, fontFamily: soft, verticalAlign: 'top', padding: [0, 0, 10, 0] } } } });
});

const heatIdx = [0, 1], fadedIdx = [2, 3, 4];
const chart = echarts.init(document.getElementById('chart'), null, { renderer: 'canvas' });
chart.setOption({
  animation: false,
  backgroundColor: '#fff',
  grid: grids, xAxis: xAxes, yAxis: yAxes,
  visualMap: [
    { type: 'continuous', seriesIndex: heatIdx, dimension: 2, min: -3, max: 3, orient: 'horizontal', left: 391, top: 712,
      itemWidth: 15, itemHeight: 322, padding: 0, text: null, showLabel: false, calculable: false, hoverLink: false,
      borderColor: '#aaa', borderWidth: 1,
      inRange: { color: ['#149bd3', '#149bd3', '#222222', '#f7e64f', '#f7e64f'] } },
    { type: 'continuous', show: false, seriesIndex: fadedIdx, dimension: 2, min: -3, max: 3,
      inRange: { color: ['#59b7e1', '#59b7e1', '#676767', '#f8ea80', '#f8ea80'] } }
  ],
  graphic: { elements: graphic },
  series
});
</script>
</body>
</html>
